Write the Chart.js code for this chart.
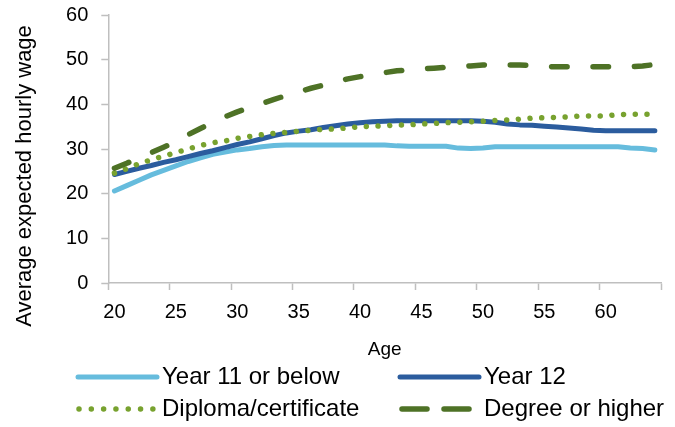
<!DOCTYPE html>
<html><head><meta charset="utf-8">
<script src="https://cdn.jsdelivr.net/npm/chart.js@4.4.1/dist/chart.umd.min.js"></script>
<style>html,body{margin:0;padding:0;background:#fff}#wrap{width:675px;height:427px;position:relative}</style>
</head><body><div id="wrap"><canvas id="c"></canvas></div>
<script>
const ages = [20,21,22,23,24,25,26,27,28,29,30,31,32,33,34,35,36,37,38,39,40,41,42,43,44,45,46,47,48,49,50,51,52,53,54,55,56,57,58,59,60,61,62,63,64];
const year11 = [20.6,21.8,23.0,24.2,25.2,26.2,27.2,28.0,28.8,29.3,29.8,30.1,30.5,30.8,30.9,30.9,30.9,30.9,30.9,30.9,30.9,30.9,30.9,30.7,30.6,30.6,30.6,30.6,30.2,30.1,30.2,30.5,30.5,30.5,30.5,30.5,30.5,30.5,30.5,30.5,30.5,30.5,30.2,30.1,29.8];
const year12 = [24.3,25.0,25.7,26.3,27.0,27.6,28.3,29.0,29.6,30.3,31.0,31.6,32.3,33.0,33.6,34.0,34.3,34.8,35.2,35.6,35.9,36.1,36.2,36.3,36.3,36.3,36.3,36.3,36.3,36.3,36.2,36.0,35.6,35.4,35.3,35.1,34.9,34.7,34.5,34.2,34.1,34.1,34.1,34.1,34.1];
const diploma = [24.6,25.6,26.7,27.6,28.4,29.2,30.0,30.8,31.4,31.8,32.4,32.8,33.2,33.5,33.7,34.0,34.2,34.4,34.5,34.7,35.0,35.1,35.2,35.4,35.4,35.6,35.7,35.9,36.0,36.1,36.2,36.4,36.5,36.7,36.9,37.0,37.1,37.2,37.4,37.4,37.4,37.7,37.8,37.8,37.8];
const degree = [25.7,26.8,28.0,29.2,30.4,31.6,33.2,34.6,35.9,37.2,38.3,39.3,40.2,41.1,42.0,42.8,43.6,44.3,45.0,45.7,46.2,46.7,47.1,47.5,47.7,47.9,48.1,48.3,48.4,48.6,48.8,48.9,48.8,48.8,48.7,48.5,48.4,48.4,48.4,48.4,48.4,48.4,48.4,48.6,48.9];
const seriesNames = ['Year 11 or below','Year 12','Diploma/certificate','Degree or higher'];
const yTicks = [0,10,20,30,40,50,60];
const yTitle = 'Average expected hourly wage';
const xTitle = 'Age';

const AXIS = '#bfbfbf';
const FONT = '"Liberation Sans", Arial, sans-serif';

const extraText = {
  id: 'extraText',
  afterDraw(chart) {
    const ctx = chart.ctx;
    ctx.save();
    ctx.fillStyle = '#000';
    ctx.font = '22px ' + FONT;
    ctx.textAlign = 'center';
    ctx.textBaseline = 'middle';
    ctx.translate(25, 176);
    ctx.rotate(-Math.PI / 2);
    ctx.fillText(yTitle, 0, 0);
    ctx.restore();
    const slots = [
      {x0: 78, x1: 157, tx: 162, y: 377},
      {x0: 400, x1: 479, tx: 484, y: 377},
      {x0: 79, x1: 153, tx: 162, y: 409},
      {x0: 402, x1: 478, tx: 484, y: 409}
    ];
    chart.data.datasets.forEach((ds, i) => {
      const s = slots[i];
      ctx.save();
      ctx.strokeStyle = ds.borderColor;
      ctx.lineWidth = ds.borderWidth;
      ctx.lineCap = 'round';
      ctx.setLineDash(ds.legendDash || ds.borderDash || []);
      ctx.beginPath();
      ctx.moveTo(s.x0, s.y);
      ctx.lineTo(s.x1, s.y);
      ctx.stroke();
      ctx.restore();
      ctx.save();
      ctx.fillStyle = '#000';
      ctx.font = '24px ' + FONT;
      ctx.textAlign = 'left';
      ctx.textBaseline = 'middle';
      ctx.fillText(ds.label, s.tx, s.y);
      ctx.restore();
    });
  }
};

new Chart(document.getElementById('c'), {
  type: 'line',
  data: {
    labels: ages,
    datasets: [
      {label: seriesNames[0], data: year11, borderColor: '#66bcdd', borderWidth: 5, order: 4},
      {label: seriesNames[1], data: year12, borderColor: '#2b5c9e', borderWidth: 5, order: 3},
      {label: seriesNames[2], data: diploma, borderColor: '#78a22f', borderWidth: 5.5, borderDash: [0.01, 11.7], legendDash: [0.01, 12.3], order: 2},
      {label: seriesNames[3], data: degree, borderColor: '#4e7226', borderWidth: 5.5, borderDash: [15.5, 25.9], legendDash: [25, 17], order: 1}
    ]
  },
  options: {
    responsive: true,
    maintainAspectRatio: false,
    devicePixelRatio: 1,
    animation: false,
    layout: {padding: {left: 0, right: 14, top: 15, bottom: 66}},
    elements: {
      point: {radius: 0, hoverRadius: 0},
      line: {tension: 0, borderCapStyle: 'round', borderJoinStyle: 'round', fill: false}
    },
    plugins: {legend: {display: false}, tooltip: {enabled: false}},
    scales: {
      x: {
        type: 'category',
        offset: true,
        grid: {
          offset: true,
          drawOnChartArea: false,
          drawTicks: true,
          tickLength: 7,
          tickWidth: 1.5,
          tickColor: (c) => (c.index === undefined || c.index % 5 === 0) ? AXIS : 'rgba(0,0,0,0)'
        },
        border: {display: true, color: AXIS, width: 1.5},
        ticks: {
          autoSkip: false,
          maxRotation: 0,
          minRotation: 0,
          padding: 10,
          color: '#000',
          font: {family: FONT, size: 20},
          callback: function(v, i) { return ages[i] % 5 === 0 ? String(ages[i]) : ''; }
        },
        title: {display: true, text: xTitle, color: '#000', font: {family: FONT, size: 19}, padding: {top: 0, bottom: 0}},
        afterFit: (s) => { s.height = 78; }
      },
      y: {
        min: yTicks[0],
        max: yTicks[yTicks.length - 1],
        afterBuildTicks: (s) => { s.ticks = yTicks.map(v => ({value: v})); },
        grid: {drawOnChartArea: false, drawTicks: true, tickLength: 7, tickWidth: 1.5, tickColor: AXIS},
        border: {display: true, color: AXIS, width: 1.5},
        ticks: {padding: 13, color: '#000', font: {family: FONT, size: 20}},
        afterFit: (s) => { s.width = 108.3; s.paddingTop = 10; s.paddingBottom = 10; }
      }
    }
  },
  plugins: [extraText]
});
</script>
</body></html>
